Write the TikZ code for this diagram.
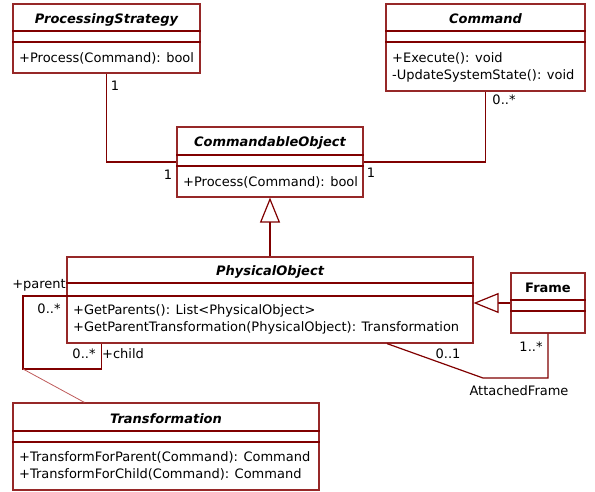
\documentclass[tikz,border=0pt]{standalone}
\usepackage{fontspec}
\setmainfont{DejaVu Sans}
\usepackage{xcolor}
\usetikzlibrary{arrows.meta, calc, positioning}
\definecolor{umlborder}{RGB}{150,40,40}
\definecolor{umlline}{RGB}{128,0,0}
\definecolor{umllink}{RGB}{190,90,90}

\begin{document}
\begin{tikzpicture}[x=1pt, y=-1pt,
    every node/.style={font=\fontsize{13}{17}\selectfont, inner sep=0pt},
    classbox/.style={draw=umlborder, line width=1.2pt, fill=white},
    classname/.style={anchor=base, font=\fontsize{13}{17}\selectfont\bfseries\itshape},
    opline/.style={anchor=base west},
    compline/.style={draw=umlline, line width=2pt},
    assoc/.style={draw=umlline, line width=1.2pt},
    inherit/.style={assoc, -{Triangle[open, length=25pt, width=20pt, fill=white]}},
    classlink/.style={draw=umllink, line width=0.8pt}]
    \useasboundingbox (0,0) rectangle (595,492);

    \node[classbox, minimum width=187pt, minimum height=69pt] (ps) at (106.5,38.5) {};
    \node[classbox, minimum width=199pt, minimum height=87pt] (cmd) at (485.5,47.5) {};
    \node[classbox, minimum width=186pt, minimum height=70pt] (co) at (270,162) {};
    \node[classbox, minimum width=406pt, minimum height=86pt] (po) at (270,300) {};
    \node[classbox, minimum width=74pt, minimum height=60pt] (fr) at (548,303) {};
    \node[classbox, minimum width=306pt, minimum height=87pt] (tr) at (166,446.5) {};

    \draw[compline] ($(ps.north west)+(0,28)$) -- ($(ps.north east)+(0,28)$);
    \draw[compline] ($(ps.north west)+(0,39)$) -- ($(ps.north east)+(0,39)$);
    \draw[compline] ($(cmd.north west)+(0,28)$) -- ($(cmd.north east)+(0,28)$);
    \draw[compline] ($(cmd.north west)+(0,39)$) -- ($(cmd.north east)+(0,39)$);
    \draw[compline] ($(co.north west)+(0,29)$) -- ($(co.north east)+(0,29)$);
    \draw[compline] ($(co.north west)+(0,40)$) -- ($(co.north east)+(0,40)$);
    \draw[compline] ($(po.north west)+(0,27)$) -- ($(po.north east)+(0,27)$);
    \draw[compline] ($(po.north west)+(0,40)$) -- ($(po.north east)+(0,40)$);
    \draw[compline] ($(fr.north west)+(0,28)$) -- ($(fr.north east)+(0,28)$);
    \draw[compline] ($(fr.north west)+(0,39)$) -- ($(fr.north east)+(0,39)$);
    \draw[compline] ($(tr.north west)+(0,29)$) -- ($(tr.north east)+(0,29)$);
    \draw[compline] ($(tr.north west)+(0,40)$) -- ($(tr.north east)+(0,40)$);

    \node[classname] (psname) at (106.5,24) {ProcessingStrategy};
    \node[classname] (cmdname) at (485.5,24) {Command};
    \node[classname] (coname) at (270,147) {CommandableObject};
    \node[classname] (poname) at (270,276) {PhysicalObject};
    \node[classname, font=\fontsize{13}{17}\selectfont\bfseries] (frname) at (548,292.5) {Frame};
    \node[classname] (trname) at (166,423) {Transformation};

    \node[opline] (psop1) at (19,63) {+Process(Command): bool};
    \node[opline] (cmdop1) at (392,63) {+Execute(): void};
    \node[opline] (cmdop2) at (392,80) {-UpdateSystemState(): void};
    \node[opline] (coop1) at (183,187) {+Process(Command): bool};
    \node[opline] (poop1) at (73,314) {+GetParents(): List<PhysicalObject>};
    \node[opline] (poop2) at (73,331) {+GetParentTransformation(PhysicalObject): Transformation};
    \node[opline] (trop1) at (19,461) {+TransformForParent(Command): Command};
    \node[opline] (trop2) at (19,478) {+TransformForChild(Command): Command};

    \coordinate (loopcorner) at (23,369);
    \coordinate (afbend) at (483,378);

    \draw[assoc] (ps.south) |- (co.west);
    \draw[assoc] (cmd.south) |- (co.east);
    \draw[inherit] (po.north) -- (co.south);
    \draw[inherit] (fr.west) -- (fr.west -| po.east);
    \draw[assoc] ($(po.west)+(0,-4)$) -| (loopcorner) -| ($(po.south west)+(35,0)$);
    \draw[assoc] ($(po.south)+(117,0)$) -- (afbend) -| (fr.south);
    \draw[classlink] (loopcorner) -- ($(tr.north west)+(72,0)$);

    \node (psmult) at (115,86) {1};
    \node (coleftmult) at (168,175) {1};
    \node (corightmult) at (371,173) {1};
    \node (cmdmult) at (504,100) {0..*};
    \node[anchor=east] (parentrole) at (66,285) {+parent};
    \node (parentmult) at (49,309) {0..*};
    \node (childmult) at (84,354) {0..*};
    \node (childrole) at (123,354) {+child};
    \node (afpomult) at (448,354) {0..1};
    \node (affrmult) at (531,347) {1..*};
    \node (afname) at (519,391) {AttachedFrame};
\end{tikzpicture}
\end{document}
